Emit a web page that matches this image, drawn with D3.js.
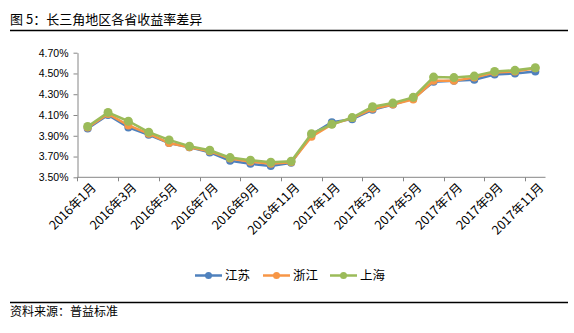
<!DOCTYPE html>
<html><head><meta charset="utf-8">
<script src="https://cdn.jsdelivr.net/npm/d3@7"></script>
<style>body{margin:0;background:#fff}svg{display:block}</style>
</head><body>
<svg id="c" width="574" height="333"></svg>
<script>
const months = ["2016年1月","2016年2月","2016年3月","2016年4月","2016年5月","2016年6月","2016年7月","2016年8月","2016年9月","2016年10月","2016年11月","2016年12月",
"2017年1月","2017年2月","2017年3月","2017年4月","2017年5月","2017年6月","2017年7月","2017年8月","2017年9月","2017年10月","2017年11月"];
const jiangsu = [3.97,4.10,3.98,3.91,3.83,3.79,3.74,3.66,3.63,3.61,3.64,3.91,4.03,4.06,4.15,4.20,4.26,4.42,4.43,4.44,4.49,4.50,4.52];
const zhejiang = [3.98,4.11,4.00,3.92,3.83,3.79,3.75,3.68,3.65,3.63,3.645,3.89,4.01,4.07,4.16,4.20,4.25,4.43,4.43,4.46,4.51,4.52,4.55];
const shanghai = [3.99,4.125,4.04,3.935,3.86,3.80,3.76,3.69,3.665,3.645,3.655,3.92,4.01,4.075,4.18,4.215,4.27,4.465,4.46,4.475,4.52,4.53,4.555];
const seriesNames = ["江苏","浙江","上海"];
const colors = ["#4F81BD","#F79646","#9BBB59"];
const yTicks = [3.5,3.7,3.9,4.1,4.3,4.5,4.7];
const title = "图 5：长三角地区各省收益率差异";
const source = "资料来源：普益标准";

const svg = d3.select("#c");
const font = "'Noto Sans CJK SC','Liberation Sans',sans-serif";
const L = 77.5, R = 545.5, T = 52.7, B = 177.3;

svg.append("text").attr("x",10).attr("y",24).attr("font-family",font).attr("font-size",13).attr("fill","#000").text(title);
svg.append("line").attr("x1",10).attr("x2",568).attr("y1",30.5).attr("y2",30.5).attr("stroke","#000").attr("stroke-width",1.5);
svg.append("line").attr("x1",10).attr("x2",568).attr("y1",302.5).attr("y2",302.5).attr("stroke","#000").attr("stroke-width",1.5);
svg.append("text").attr("x",10).attr("y",316).attr("font-family",font).attr("font-size",12).attr("fill","#000").text(source);

const x = d3.scaleBand().domain(months).range([L,R]).padding(0);
const y = d3.scaleLinear().domain([3.5,4.7]).range([B,T]);

// y axis
const ya = svg.append("g").attr("transform",`translate(${L},0)`)
  .call(d3.axisLeft(y).tickValues(yTicks).tickFormat(d=>d.toFixed(2)+"%").tickSize(4).tickSizeOuter(0));
ya.select(".domain").attr("stroke","#868686");
ya.selectAll(".tick line").attr("stroke","#868686");
ya.selectAll("text").attr("font-family","'Liberation Sans',sans-serif").attr("font-size",10.5).attr("fill","#000").attr("x",-9);

// x axis
const xa = svg.append("g").attr("transform",`translate(0,${B})`);
xa.append("line").attr("x1",L).attr("x2",R).attr("y1",0).attr("y2",0).attr("stroke","#868686");
const labeled = months.filter((d,i)=>i%2===0);
xa.selectAll("line.tk").data(labeled).join("line").attr("class","tk")
  .attr("x1",d=>Math.round(x(d))+0.5).attr("x2",d=>Math.round(x(d))+0.5).attr("y1",0).attr("y2",4).attr("stroke","#868686");
xa.selectAll("text").data(labeled).join("text")
  .attr("transform",d=>`translate(${x(d)+x.bandwidth()/2+6},${8}) rotate(-45)`)
  .attr("text-anchor","end").attr("dy","0.35em")
  .attr("font-family",font).attr("font-size",12.5).attr("fill","#000").text(d=>d);

const all = [jiangsu,zhejiang,shanghai];
const line = d3.line().x((d,i)=>x(months[i])+x.bandwidth()/2).y(d=>y(d));
all.forEach((s,k)=>{
  const g = svg.append("g");
  g.append("path").datum(s).attr("d",line).attr("fill","none").attr("stroke",colors[k]).attr("stroke-width",2.5);
  g.selectAll("circle").data(s).join("circle")
    .attr("cx",(d,i)=>x(months[i])+x.bandwidth()/2).attr("cy",d=>y(d)).attr("r",k===2?4.5:4).attr("fill",colors[k]);
});

// legend
const lg = svg.append("g");
const lx = [195,263,330];
seriesNames.forEach((n,k)=>{
  lg.append("line").attr("x1",lx[k]).attr("x2",lx[k]+27).attr("y1",275.5).attr("y2",275.5).attr("stroke",colors[k]).attr("stroke-width",2.5);
  lg.append("circle").attr("cx",lx[k]+13.5).attr("cy",275.5).attr("r",3.5).attr("fill",colors[k]);
  lg.append("text").attr("x",lx[k]+30).attr("y",280).attr("font-family",font).attr("font-size",12.5).attr("fill","#000").text(n);
});
</script>
</body></html>
